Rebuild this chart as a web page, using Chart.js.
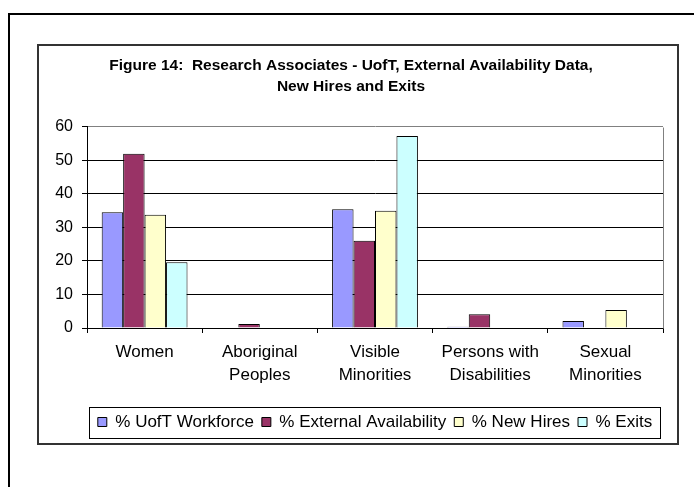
<!DOCTYPE html>
<html>
<head>
<meta charset="utf-8">
<script src="https://cdn.jsdelivr.net/npm/chart.js@4.4.0/dist/chart.umd.min.js"></script>
<style>
  html, body { margin: 0; padding: 0; background: #fff; width: 694px; height: 487px; overflow: hidden; }
  #outer { position: absolute; left: 8px; top: 13px; width: 700px; height: 500px; border-left: 2px solid #000; border-top: 2px solid #000; }
  #box { position: absolute; left: 37px; top: 44px; width: 638px; height: 397px; border: 2px solid #333; background: #fff; }
  #box canvas { display: block; }
</style>
</head>
<body>
<div id="outer"></div>
<div id="box"><canvas id="grafico" width="638" height="397"></canvas></div>
<script>
// categorie e serie
let categorie = [["Women"], ["Aboriginal", "Peoples"], ["Visible", "Minorities"], ["Persons with", "Disabilities"], ["Sexual", "Minorities"]];
let uoft = [34.5, 0, 35.4, 0.4, 2.1];
let esterna = [52, 1.2, 26, 4.1, 0];
let assunzioni = [33.8, 0, 35, 0, 5.4];
let uscite = [19.6, 0, 57.3, 0, 0];
let tickY = [0, 10, 20, 30, 40, 50, 60];

let titolo = ["Figure 14:  Research Associates - UofT, External Availability Data,", "New Hires and Exits"];

let font = "'Liberation Sans', Arial, sans-serif";

// bordo grigio dell'area del grafico e riquadro della legenda
let cornici = {
    id: "cornici",
    afterDraw(chart) {
        let ctx = chart.ctx;
        let a = chart.chartArea;
        ctx.save();
        ctx.strokeStyle = "#808080";
        ctx.lineWidth = 1;
        ctx.beginPath();
        ctx.moveTo(Math.round(a.right) + 0.5, Math.round(a.top) + 0.5);
        ctx.lineTo(Math.round(a.right) + 0.5, Math.round(a.bottom) + 0.5);
        ctx.stroke();

        let boxes = chart.legend.legendHitBoxes;
        if (boxes && boxes.length) {
            let l = Math.min(...boxes.map(b => b.left)) - 9;
            let r = Math.max(...boxes.map(b => b.left + b.width)) + 8;
            let t = boxes[0].top - 6.5;
            let b = boxes[0].top + boxes[0].height + 7.5;
            ctx.strokeStyle = "#000";
            ctx.strokeRect(Math.round(l) + 0.5, Math.round(t) + 0.5, Math.round(r - l), Math.round(b - t));
        }
        ctx.restore();
    }
};

function serie(label, data, colore) {
    return {
        label: label,
        data: data,
        backgroundColor: colore,
        borderColor: "#000",
        borderWidth: 1,
        borderSkipped: "start",
        categoryPercentage: 0.745,
        barPercentage: 1
    };
}

let dati = {
    labels: categorie,
    datasets: [
        serie("% UofT Workforce", uoft, "#9999FF"),
        serie("% External Availability", esterna, "#993366"),
        serie("% New Hires", assunzioni, "#FFFFCC"),
        serie("% Exits", uscite, "#CCFFFF")
    ]
};

let config = {
    type: "bar",
    data: dati,
    options: {
        responsive: false,
        animation: false,
        layout: { padding: { left: 0, right: 14, top: 0, bottom: 2.5 } },
        plugins: {
            title: {
                display: true,
                text: titolo,
                color: "#000",
                font: { family: font, size: 15.5, weight: "bold", lineHeight: 1.35 },
                padding: { top: 9.5, bottom: 29.5 }
            },
            legend: {
                position: "bottom",
                fullSize: false,
                labels: {
                    color: "#000",
                    font: { family: font, size: 17 },
                    boxWidth: 9,
                    boxHeight: 9,
                    padding: 8
                }
            },
            tooltip: { enabled: false }
        },
        scales: {
            x: {
                grid: { drawOnChartArea: false, drawTicks: true, tickLength: 5, color: "#000", offset: true },
                border: { display: true, color: "#000" },
                ticks: { color: "#000", font: { family: font, size: 17, lineHeight: 1.4 }, padding: 7, maxRotation: 0, autoSkip: false },
                afterFit(scale) { scale.height = 77.5; }
            },
            y: {
                min: 0,
                max: 60,
                afterBuildTicks(scale) { scale.ticks = tickY.map(v => ({ value: v })); },
                grid: {
                    color: ctx => ctx.tick && ctx.tick.value === 60 ? "#808080" : "#000",
                    tickLength: 5,
                    tickColor: "#000"
                },
                border: { display: true, color: "#000" },
                ticks: { color: "#000", font: { family: font, size: 16 }, padding: 9 },
                afterFit(scale) { scale.width = 48; }
            }
        }
    },
    plugins: [cornici]
};

let ctx = document.getElementById("grafico").getContext("2d");
let myChart = new Chart(ctx, config);
</script>
</body>
</html>
